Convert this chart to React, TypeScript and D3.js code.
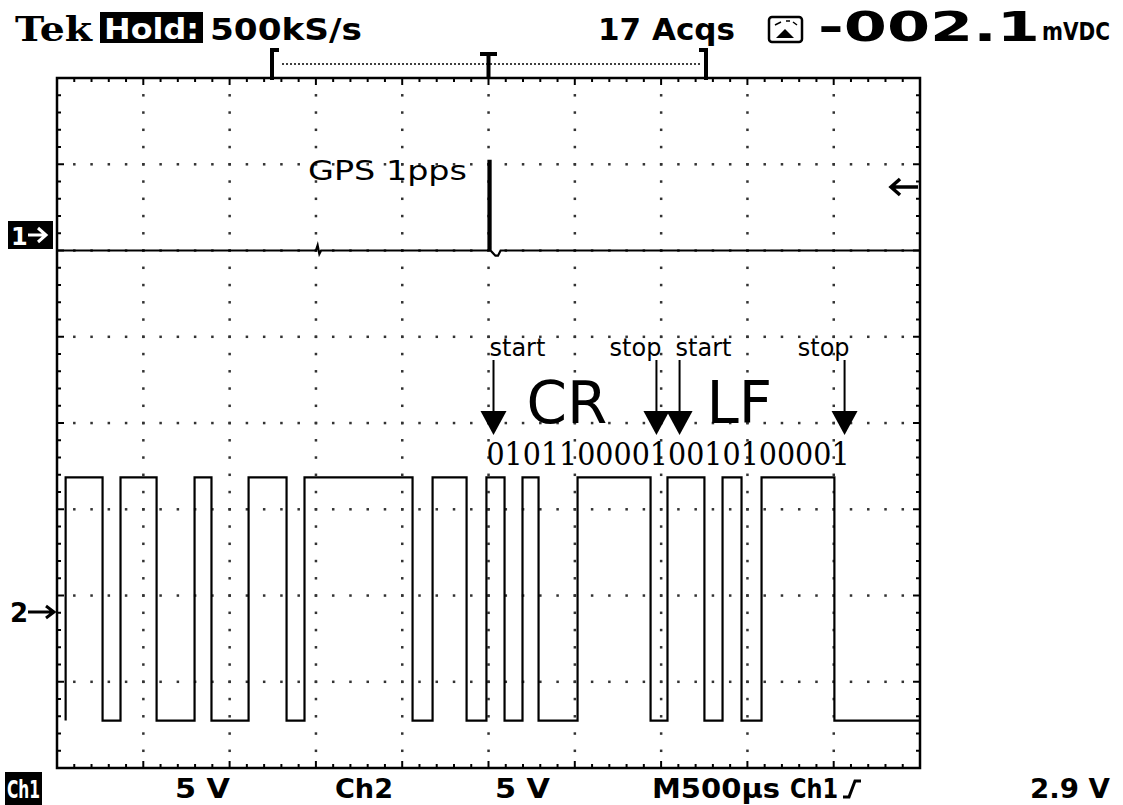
import React from "react"
import * as d3 from "d3"

// time axis in microseconds (10 div x 500us), trigger at 0
const timeRange = [-2500, 2500]
const divRange = [-4, 4]
const voltsPerDiv = 5

// ch1: GPS 1pps, ground 2 div above centre
const ch1Offset = 2
const ch1Times = [-2500, -1000, -990, -980, -970, 0, 0, 12, 12, 40, 55, 70, 2500]
const ch1Volts = [0, 0, 0.3, -0.2, 0, 0, 5.2, 5.2, 0, -0.3, -0.3, 0, 0]

// ch2: serial line, edges
const ch2Offset = -2.19
const ch2High = 7.8
const ch2Low = -6.3
const ch2Start = -2450
const ch2End = 2500
const ch2Edges = [
  -2236, -2132, -1923, -1703, -1605, -1390, -1170, -1066, -440, -324, -127, -12,
  93, 197, 290, 516, 939, 1037, 1251, 1356, 1466, 1582, 2004,
]

// annotations
const markerLabels = ["start", "stop", "start", "stop"]
const markerTimes = [29, 973, 1107, 2063]
const byteLabels = ["CR", "LF"]
const byteTimes = [220, 1263]
const bitString = "01011000010010100001"
const bitSpan = [-12, 2092]

const W = 1123
const H = 805

export default function App() {
  const x = d3.scaleLinear().domain(timeRange).range([57, 920])
  const y = d3.scaleLinear().domain(divRange).range([768, 78])
  const line = d3.line<[number, number]>().x(d => x(d[0])).y(d => y(d[1]))

  const ch1Pts: [number, number][] = ch1Times.map((t, i) => [t, ch1Volts[i] / voltsPerDiv + ch1Offset])

  const hi = ch2High / voltsPerDiv + ch2Offset
  const lo = ch2Low / voltsPerDiv + ch2Offset
  const ch2Pts: [number, number][] = [[ch2Start, lo], [ch2Start, hi]]
  let level = hi
  ch2Edges.forEach(t => {
    ch2Pts.push([t, level])
    level = level === hi ? lo : hi
    ch2Pts.push([t, level])
  })
  ch2Pts.push([ch2End, level])

  const minorX = d3.range(timeRange[0], timeRange[1] + 1, 100)
  const minorY = d3.range(0, 41).map(i => divRange[0] + i * 0.2)
  const majorX = d3.range(-2000, 2001, 500)
  const majorY = d3.range(-3, 4, 1)

  const dots: JSX.Element[] = []
  majorX.forEach(t =>
    minorY.slice(1, -1).forEach((d, j) =>
      dots.push(<rect key={"v" + t + "_" + j} x={x(t) - 1.2} y={y(d) - 1.2} width={2.5} height={2.5} fill="#333" />)
    )
  )
  majorY.forEach(d =>
    minorX.slice(1, -1).forEach((t, j) =>
      dots.push(<rect key={"h" + d + "_" + j} x={x(t) - 1.2} y={y(d) - 1.2} width={2.5} height={2.5} fill="#333" />)
    )
  )

  const ticks: JSX.Element[] = []
  minorX.forEach((t, i) => {
    const len = i % 5 === 0 ? 7 : 4
    ticks.push(<line key={"tt" + i} x1={x(t)} x2={x(t)} y1={78} y2={78 + len} stroke="#000" strokeWidth={2} />)
    ticks.push(<line key={"tb" + i} x1={x(t)} x2={x(t)} y1={768} y2={768 - len} stroke="#000" strokeWidth={2} />)
  })
  minorY.forEach((d, i) => {
    const len = i % 5 === 0 ? 7 : 4
    ticks.push(<line key={"tl" + i} x1={57} x2={57 + len} y1={y(d)} y2={y(d)} stroke="#000" strokeWidth={2} />)
    ticks.push(<line key={"tr" + i} x1={920} x2={920 - len} y1={y(d)} y2={y(d)} stroke="#000" strokeWidth={2} />)
  })

  const bold = { fontFamily: "DejaVu Sans", fontWeight: "bold" as const }
  const thin = { fontFamily: "DejaVu Sans" }

  return (
    <svg width={W} height={H} style={{ position: "absolute", left: 0, top: 0, background: "#fff" }}>
      <rect width={W} height={H} fill="#fff" />

      {/* header */}
      <text x={15} y={41} fontFamily="DejaVu Serif" fontWeight="bold" fontSize={34} textLength={77} lengthAdjust="spacingAndGlyphs">Tek</text>
      <rect x={100} y={12} width={103} height={31} fill="#000" />
      <text x={104} y={39} {...bold} fontSize={28} fill="#fff" textLength={95} lengthAdjust="spacingAndGlyphs">Hold:</text>
      <text x={210} y={40} {...bold} fontSize={30} textLength={152} lengthAdjust="spacingAndGlyphs">500kS/s</text>
      <text x={598} y={40} {...bold} fontSize={30} textLength={137} lengthAdjust="spacingAndGlyphs">17 Acqs</text>
      <rect x={769} y={17} width={33} height={25} fill="#fff" stroke="#000" strokeWidth={2.5} rx={3} />
      <path d="M776,38 L785,29 L794,38 Z" fill="#000" />
      <path d="M775,25 L781,22 M786,21 L790,21 M793,22 L797,25" stroke="#000" strokeWidth={1.5} />
      <text x={818} y={41} {...bold} fontSize={40} textLength={222} lengthAdjust="spacingAndGlyphs">-002.1</text>
      <text x={1042} y={40} {...bold} fontSize={24} textLength={68} lengthAdjust="spacingAndGlyphs">mVDC</text>

      {/* trigger position bracket */}
      <line x1={282} x2={700} y1={64} y2={64} stroke="#000" strokeWidth={1.5} strokeDasharray="2,2" />
      <path d="M279,50 L272,50 L272,80" fill="none" stroke="#000" strokeWidth={4} />
      <path d="M699,50 L706,50 L706,80" fill="none" stroke="#000" strokeWidth={4} />
      <path d="M480,54 L497,54 M488.5,54 L488.5,78" fill="none" stroke="#000" strokeWidth={4} />

      {/* graticule */}
      {dots}
      {ticks}
      <rect x={57} y={78} width={863} height={690} fill="none" stroke="#000" strokeWidth={2.5} />

      {/* channel markers */}
      <rect x={8} y={221} width={45} height={28} fill="#000" />
      <text x={11} y={245} {...bold} fontSize={24} fill="#fff">1</text>
      <path d="M28,235 L44,235 M38,228 L46,235 L38,242" fill="none" stroke="#fff" strokeWidth={3} />
      <text x={10} y={622} {...bold} fontSize={26}>2</text>
      <path d="M28,612 L52,612 M46,606 L54,612 L46,618" fill="none" stroke="#000" strokeWidth={3} />
      <path d="M892,187 L918,187 M900,179 L891,187 L900,195" fill="none" stroke="#000" strokeWidth={3.5} />

      {/* traces */}
      <path d={line(ch1Pts) || ""} fill="none" stroke="#000" strokeWidth={2.2} />
      <path d={line(ch2Pts) || ""} fill="none" stroke="#000" strokeWidth={2.2} />

      {/* annotations */}
      <text x={308} y={180} {...thin} fontSize={26} textLength={159} lengthAdjust="spacingAndGlyphs">GPS 1pps</text>
      {markerTimes.map((t, i) => {
        const ax = x(t)
        const isStart = markerLabels[i] === "start"
        return (
          <g key={"m" + i}>
            <text x={isStart ? ax - 4 : ax + 5} y={356} {...thin} fontSize={24} textAnchor={isStart ? "start" : "end"}>{markerLabels[i]}</text>
            <line x1={ax} x2={ax} y1={360} y2={414} stroke="#000" strokeWidth={2} />
            <path d={`M${ax - 13},411 L${ax + 13},411 L${ax},435 Z`} fill="#000" />
          </g>
        )
      })}
      {byteLabels.map((b, i) => (
        <text key={b} x={x(byteTimes[i])} y={423} {...thin} fontSize={58}>{b}</text>
      ))}
      <text x={x(bitSpan[0])} y={465} fontFamily="DejaVu Serif" fontSize={32} textLength={x(bitSpan[1]) - x(bitSpan[0])} lengthAdjust="spacingAndGlyphs">{bitString}</text>

      {/* footer */}
      <rect x={5} y={772} width={37} height={33} fill="#000" />
      <text x={7} y={798} {...bold} fontSize={25} fill="#fff" textLength={33} lengthAdjust="spacingAndGlyphs">Ch1</text>
      <text x={175} y={798} {...bold} fontSize={26} textLength={55} lengthAdjust="spacingAndGlyphs">5 V</text>
      <text x={335} y={798} {...bold} fontSize={26} textLength={58} lengthAdjust="spacingAndGlyphs">Ch2</text>
      <text x={495} y={798} {...bold} fontSize={26} textLength={55} lengthAdjust="spacingAndGlyphs">5 V</text>
      <text x={652} y={798} {...bold} fontSize={26} textLength={128} lengthAdjust="spacingAndGlyphs">M500µs</text>
      <text x={790} y={798} {...bold} fontSize={26} textLength={48} lengthAdjust="spacingAndGlyphs">Ch1</text>
      <path d="M843,797 L849,797 L855,781 L861,781" fill="none" stroke="#000" strokeWidth={3} />
      <text x={1030} y={798} {...bold} fontSize={26} textLength={80} lengthAdjust="spacingAndGlyphs">2.9 V</text>
    </svg>
  )
}
